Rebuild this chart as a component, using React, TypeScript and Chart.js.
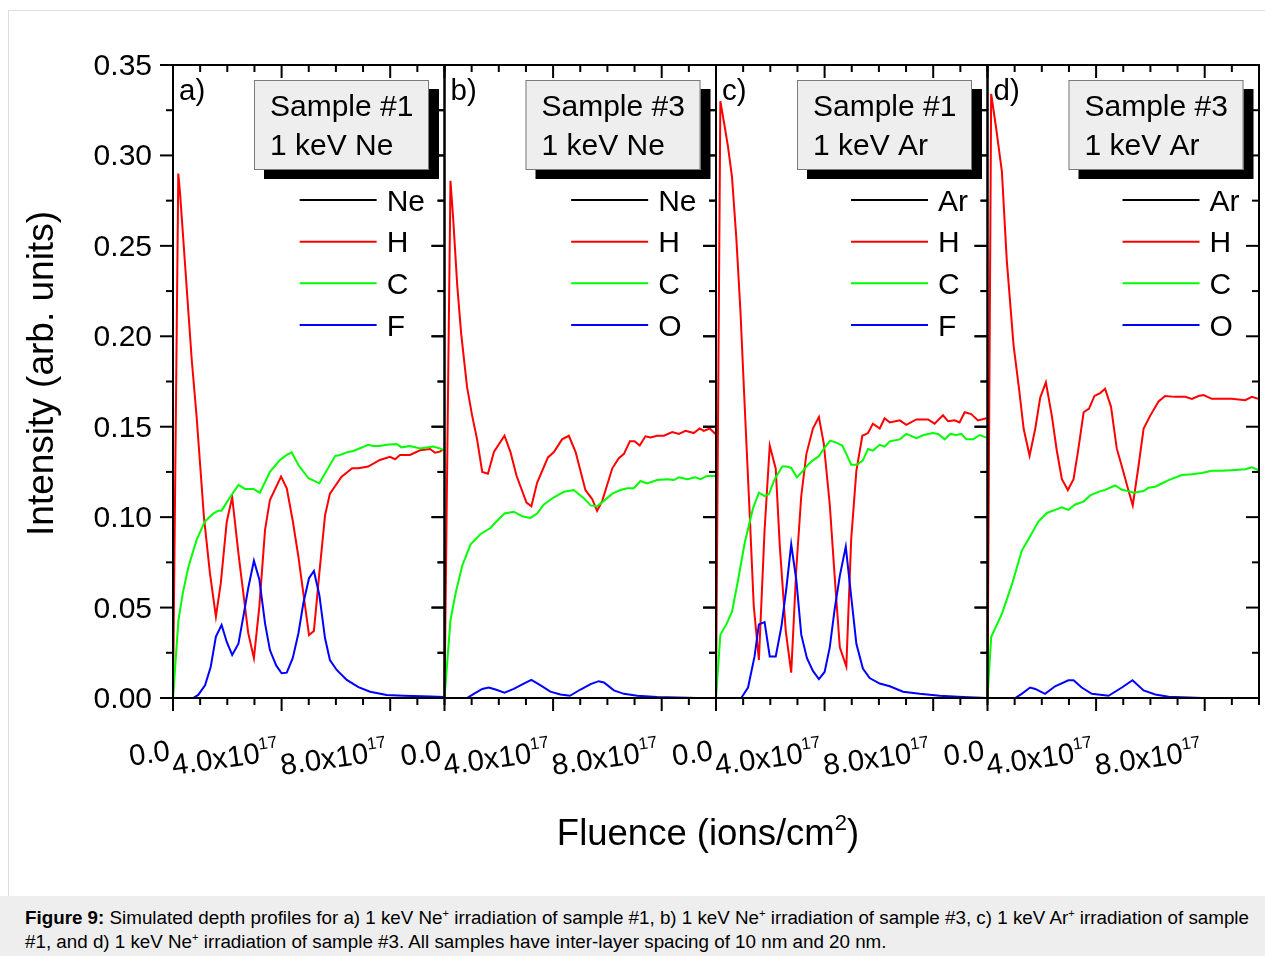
import React, { useEffect, useRef } from 'react';
import { Chart, registerables } from 'chart.js';

Chart.register(...registerables);

const FONT = '"Liberation Sans", Arial, Helvetica, sans-serif';

// ---------- axis ticks ----------
const yTickValues = [0, 0.05, 0.1, 0.15, 0.2, 0.25, 0.3, 0.35];
const yTickLabels = ['0.00', '0.05', '0.10', '0.15', '0.20', '0.25', '0.30', '0.35'];
const yMinorValues = [0.025, 0.075, 0.125, 0.175, 0.225, 0.275, 0.325];
// fluence in units of 1e17 ions/cm2
const xMajorValues = [0, 4, 8];
const xMajorLabels = ['0.0', '4.0x10', '8.0x10'];
const xMajorExponents = ['', '17', '17'];
const xMinorValues = [1, 2, 3, 5, 6, 7, 9, 10];

// ---------- panel texts ----------
const panelLetters = ['a)', 'b)', 'c)', 'd)'];
const sampleNames = ['Sample #1', 'Sample #3', 'Sample #1', 'Sample #3'];
const beamNames = ['1 keV Ne', '1 keV Ne', '1 keV Ar', '1 keV Ar'];
const panelSpecies = [
  ['Ne', 'H', 'C', 'F'],
  ['Ne', 'H', 'C', 'O'],
  ['Ar', 'H', 'C', 'F'],
  ['Ar', 'H', 'C', 'O'],
];
const seriesColors = ['#000000', '#ff0000', '#00ff00', '#0000ff'];

// ---------- data (x in 1e17 ions/cm2) ----------
const ionX = [0, 10];
const ionY = [0, 0];

// a) Sample #1, 1 keV Ne
const aHx = [0, 0.195, 0.26, 0.69, 0.87, 1.14, 1.36, 1.58, 1.76, 1.98, 2.18, 2.41, 2.77, 2.98, 3.18, 3.39, 3.57, 3.98, 4.19, 4.41, 4.62, 4.8, 5.01, 5.19, 5.39, 5.6, 5.78, 6.21, 6.6, 6.83, 7.19, 7.62, 7.99, 8.18, 8.36, 8.73, 9.1, 9.47, 9.65, 9.83, 9.96];
const aHy = [0, 0.29, 0.279, 0.187, 0.1555, 0.1, 0.069, 0.045, 0.0635, 0.0975, 0.111, 0.08, 0.036, 0.022, 0.0505, 0.093, 0.1095, 0.1224, 0.116, 0.098, 0.078, 0.058, 0.0348, 0.037, 0.069, 0.101, 0.113, 0.1224, 0.127, 0.127, 0.128, 0.1316, 0.1334, 0.132, 0.1344, 0.1344, 0.137, 0.1377, 0.1356, 0.1362, 0.1375];
const aCx = [0, 0.2, 0.36, 0.57, 0.87, 1.17, 1.48, 1.67, 1.79, 2.1, 2.41, 2.65, 2.96, 3.2, 3.57, 3.94, 4.19, 4.37, 4.62, 4.99, 5.39, 5.97, 6.15, 6.4, 6.64, 7.19, 7.38, 7.62, 7.87, 8.24, 8.42, 8.73, 9.1, 9.59, 9.83, 9.96];
const aCy = [0, 0.043, 0.058, 0.0726, 0.0874, 0.0975, 0.102, 0.1036, 0.1036, 0.111, 0.1178, 0.1156, 0.1156, 0.1135, 0.1251, 0.1316, 0.1344, 0.1358, 0.1288, 0.1215, 0.1187, 0.1338, 0.1344, 0.1358, 0.1366, 0.14, 0.1393, 0.1393, 0.14, 0.1404, 0.1386, 0.1393, 0.138, 0.139, 0.138, 0.137];
const aFx = [0, 0.74, 0.93, 1.18, 1.39, 1.58, 1.79, 1.98, 2.18, 2.41, 2.59, 2.77, 2.98, 3.18, 3.39, 3.57, 3.8, 4.0, 4.19, 4.41, 4.62, 4.8, 5.01, 5.19, 5.39, 5.6, 5.78, 6.03, 6.4, 6.83, 7.26, 7.87, 8.5, 9.5, 9.96];
const aFy = [0, 0, 0.0017, 0.007, 0.0173, 0.034, 0.0404, 0.031, 0.0238, 0.03, 0.045, 0.0607, 0.0759, 0.0656, 0.0413, 0.0265, 0.018, 0.0137, 0.014, 0.022, 0.0358, 0.0524, 0.0662, 0.0702, 0.057, 0.033, 0.021, 0.0155, 0.01, 0.006, 0.0035, 0.0017, 0.0013, 0.0008, 0.0006];

// b) Sample #3, 1 keV Ne
const bHx = [0, 0.22, 0.32, 0.47, 0.61, 0.83, 1.02, 1.2, 1.39, 1.6, 1.82, 2.21, 2.43, 2.65, 3.02, 3.2, 3.41, 3.81, 4.03, 4.33, 4.58, 4.83, 5.19, 5.44, 5.62, 5.81, 6.18, 6.42, 6.61, 6.83, 7.0, 7.19, 7.4, 7.59, 7.83, 8.08, 8.39, 8.63, 8.88, 9.18, 9.4, 9.55, 9.77, 9.98];
const bHy = [0, 0.286, 0.265, 0.228, 0.202, 0.172, 0.156, 0.143, 0.125, 0.124, 0.136, 0.145, 0.136, 0.123, 0.108, 0.106, 0.119, 0.133, 0.136, 0.143, 0.145, 0.136, 0.115, 0.11, 0.1035, 0.109, 0.127, 0.1326, 0.135, 0.142, 0.142, 0.1396, 0.1447, 0.144, 0.145, 0.145, 0.147, 0.146, 0.1477, 0.1465, 0.149, 0.1477, 0.149, 0.146];
const bCx = [0, 0.22, 0.41, 0.65, 0.96, 1.33, 1.69, 1.94, 2.21, 2.55, 2.86, 3.17, 3.41, 3.66, 4.03, 4.4, 4.76, 5.13, 5.38, 5.62, 5.87, 6.18, 6.48, 6.73, 6.97, 7.22, 7.46, 7.83, 8.2, 8.45, 8.63, 8.94, 9.24, 9.43, 9.67, 9.98];
const bCy = [0, 0.043, 0.058, 0.073, 0.085, 0.0907, 0.094, 0.098, 0.102, 0.103, 0.1005, 0.0996, 0.102, 0.107, 0.111, 0.114, 0.115, 0.1105, 0.1065, 0.106, 0.109, 0.113, 0.115, 0.116, 0.116, 0.12, 0.1186, 0.1205, 0.121, 0.1205, 0.122, 0.121, 0.122, 0.121, 0.1228, 0.1228];
const bOx = [0, 0.83, 1.08, 1.39, 1.63, 1.88, 2.21, 2.55, 2.92, 3.2, 3.54, 3.9, 4.27, 4.62, 5.01, 5.38, 5.68, 5.87, 6.24, 6.61, 7.1, 7.83, 9.3, 9.98];
const bOy = [0, 0, 0.0023, 0.005, 0.0058, 0.0047, 0.003, 0.005, 0.008, 0.01, 0.007, 0.0035, 0.0019, 0.0012, 0.0047, 0.0077, 0.0093, 0.0086, 0.0042, 0.0023, 0.0012, 0.0005, 0, 0];

// c) Sample #1, 1 keV Ar
const cHx = [0, 0.16, 0.32, 0.44, 0.59, 0.75, 0.9, 1.06, 1.24, 1.39, 1.58, 1.79, 1.98, 2.2, 2.35, 2.57, 2.77, 2.96, 3.14, 3.33, 3.57, 3.79, 3.97, 4.19, 4.37, 4.56, 4.8, 4.98, 5.17, 5.39, 5.6, 5.78, 6.03, 6.21, 6.4, 6.77, 7.01, 7.38, 7.81, 8.05, 8.36, 8.55, 8.79, 8.97, 9.16, 9.4, 9.65, 9.96];
const cHy = [0, 0.33, 0.316, 0.305, 0.288, 0.254, 0.214, 0.1605, 0.102, 0.051, 0.021, 0.093, 0.1396, 0.1268, 0.084, 0.037, 0.014, 0.072, 0.1117, 0.135, 0.149, 0.1554, 0.1407, 0.107, 0.0675, 0.028, 0.0174, 0.088, 0.1256, 0.145, 0.1465, 0.1517, 0.149, 0.1547, 0.1524, 0.1535, 0.151, 0.154, 0.154, 0.1517, 0.1563, 0.153, 0.1535, 0.1524, 0.158, 0.157, 0.1535, 0.1547];
const cCx = [0, 0.16, 0.38, 0.59, 0.81, 1.06, 1.36, 1.58, 1.79, 1.95, 2.16, 2.44, 2.59, 2.77, 2.98, 3.2, 3.39, 3.57, 3.79, 4.0, 4.21, 4.43, 4.65, 4.8, 4.98, 5.19, 5.41, 5.6, 5.78, 6.03, 6.21, 6.4, 6.77, 7.01, 7.38, 7.65, 7.99, 8.18, 8.42, 8.63, 8.85, 9.04, 9.22, 9.47, 9.71, 9.96];
const cCy = [0, 0.035, 0.0407, 0.0477, 0.065, 0.086, 0.1047, 0.1135, 0.1116, 0.1128, 0.121, 0.128, 0.128, 0.1272, 0.122, 0.1256, 0.129, 0.1314, 0.1337, 0.1384, 0.1423, 0.1412, 0.1396, 0.135, 0.129, 0.129, 0.1314, 0.1377, 0.1368, 0.14, 0.139, 0.1419, 0.143, 0.146, 0.1437, 0.1454, 0.1465, 0.146, 0.143, 0.146, 0.1454, 0.146, 0.143, 0.143, 0.1454, 0.144];
const cFx = [0, 0.93, 1.18, 1.42, 1.58, 1.79, 1.98, 2.2, 2.41, 2.59, 2.77, 2.96, 3.14, 3.35, 3.57, 3.79, 4.0, 4.19, 4.37, 4.56, 4.78, 4.98, 5.17, 5.41, 5.66, 6.03, 6.4, 6.89, 7.5, 8.24, 9.1, 9.96];
const cFy = [0, 0, 0.0058, 0.023, 0.0407, 0.042, 0.023, 0.023, 0.0395, 0.0605, 0.085, 0.065, 0.035, 0.022, 0.015, 0.0105, 0.0144, 0.028, 0.049, 0.0675, 0.0837, 0.056, 0.03, 0.0163, 0.011, 0.008, 0.0065, 0.0035, 0.0023, 0.0012, 0.0005, 0];

// d) Sample #3, 1 keV Ar
const dHx = [0, 0.135, 0.31, 0.53, 0.71, 0.96, 1.17, 1.33, 1.55, 1.76, 1.94, 2.15, 2.37, 2.55, 2.74, 2.96, 3.17, 3.35, 3.54, 3.74, 3.94, 4.15, 4.33, 4.55, 4.76, 4.95, 5.17, 5.35, 5.56, 5.75, 5.99, 6.3, 6.54, 6.91, 7.28, 7.53, 7.77, 7.96, 8.26, 8.63, 9.0, 9.49, 9.74, 9.98];
const dHy = [0, 0.334, 0.316, 0.291, 0.242, 0.195, 0.17, 0.149, 0.134, 0.149, 0.166, 0.1745, 0.156, 0.137, 0.121, 0.115, 0.121, 0.138, 0.158, 0.16, 0.167, 0.1686, 0.171, 0.161, 0.138, 0.128, 0.116, 0.1065, 0.128, 0.149, 0.156, 0.164, 0.167, 0.1665, 0.1665, 0.1654, 0.167, 0.1675, 0.1654, 0.1654, 0.1654, 0.1647, 0.1665, 0.1654];
const dCx = [0, 0.135, 0.53, 0.9, 1.26, 1.57, 1.88, 2.19, 2.49, 2.74, 2.98, 3.23, 3.54, 3.78, 4.09, 4.33, 4.7, 4.95, 5.19, 5.38, 5.75, 5.93, 6.18, 6.42, 6.67, 7.16, 7.53, 7.89, 8.26, 8.63, 9.12, 9.49, 9.74, 9.98];
const dCy = [0, 0.0337, 0.0465, 0.0628, 0.0814, 0.0895, 0.0977, 0.1023, 0.104, 0.1054, 0.104, 0.107, 0.1086, 0.112, 0.114, 0.1151, 0.1175, 0.1151, 0.1144, 0.1135, 0.1144, 0.1163, 0.1168, 0.1186, 0.1205, 0.1233, 0.1237, 0.1244, 0.1256, 0.1256, 0.1261, 0.1265, 0.1275, 0.126];
const dOx = [0, 1.02, 1.26, 1.57, 1.76, 2.12, 2.49, 2.98, 3.17, 3.47, 3.84, 4.46, 4.95, 5.34, 5.75, 6.18, 6.67, 7.9, 9.98];
const dOy = [0, 0, 0.0023, 0.0058, 0.005, 0.0023, 0.0065, 0.0098, 0.0098, 0.0058, 0.0023, 0.0012, 0.0058, 0.0098, 0.0042, 0.0019, 0.0007, 0, 0];

const panelXs = [
  [ionX, aHx, aCx, aFx],
  [ionX, bHx, bCx, bOx],
  [ionX, cHx, cCx, cFx],
  [ionX, dHx, dCx, dOx],
];
const panelYs = [
  [ionY, aHy, aCy, aFy],
  [ionY, bHy, bCy, bOy],
  [ionY, cHy, cCy, cFy],
  [ionY, dHy, dCy, dOy],
];

// Each panel has its own x axis; the four axes share the full plot width,
// each panel covering its own quarter (0..10 x 1e17).
const axisIds = ['xa', 'xb', 'xc', 'xd'];
const axisMin = [0, -10, -20, -30];
const axisMax = [40, 30, 20, 10];

const drawDecor = {
  id: 'decor',
  afterDraw(chart: any) {
    const ctx: CanvasRenderingContext2D = chart.ctx;
    const ys = chart.scales.y;
    const top = ys.getPixelForValue(0.35);
    const bottom = ys.getPixelForValue(0);
    const line = (x1: number, y1: number, x2: number, y2: number) => {
      ctx.beginPath();
      ctx.moveTo(x1, y1);
      ctx.lineTo(x2, y2);
      ctx.stroke();
    };
    ctx.save();
    ctx.strokeStyle = '#000';
    ctx.fillStyle = '#000';
    ctx.lineCap = 'butt';

    axisIds.forEach((id, i) => {
      const xs = chart.scales[id];
      const L = xs.getPixelForValue(0);
      const R = xs.getPixelForValue(10);
      ctx.lineWidth = 2;
      ctx.strokeStyle = '#000';
      // y ticks: left outward, right inward
      yTickValues.forEach((v) => {
        const y = ys.getPixelForValue(v);
        line(L - 13, y, L, y);
        line(R - 13, y, R, y);
      });
      yMinorValues.forEach((v) => {
        const y = ys.getPixelForValue(v);
        line(L - 7, y, L, y);
        line(R - 7, y, R, y);
      });
      // x ticks: bottom outward, top inward
      xMajorValues.forEach((v) => {
        const x = xs.getPixelForValue(v);
        line(x, bottom, x, bottom + 13);
        line(x, top, x, top + 13);
      });
      xMinorValues.forEach((v) => {
        const x = xs.getPixelForValue(v);
        line(x, bottom, x, bottom + 7);
        line(x, top, x, top + 7);
      });
      // frame
      ctx.strokeRect(L, top, R - L, bottom - top);

      // x tick labels (slightly rotated)
      xMajorValues.forEach((v, k) => {
        const x = xs.getPixelForValue(v);
        const base = xMajorLabels[k];
        const exp = xMajorExponents[k];
        ctx.font = `29.5px ${FONT}`;
        const wb = ctx.measureText(base).width;
        ctx.font = `17px ${FONT}`;
        const we = exp ? ctx.measureText(exp).width : 0;
        ctx.save();
        ctx.translate(x - 2, 760);
        ctx.rotate((-8 * Math.PI) / 180);
        ctx.textAlign = 'left';
        ctx.textBaseline = 'alphabetic';
        ctx.font = `29.5px ${FONT}`;
        ctx.fillText(base, -(wb + we), 0);
        if (exp) {
          ctx.font = `17px ${FONT}`;
          ctx.fillText(exp, -we, -13);
        }
        ctx.restore();
      });

      // panel letter
      ctx.font = `29.5px ${FONT}`;
      ctx.textAlign = 'left';
      ctx.textBaseline = 'alphabetic';
      ctx.fillText(panelLetters[i], L + 6, 100);

      // sample box with shadow
      const bx = L + 81;
      const by = 80;
      const bw = 175;
      const bh = 90;
      ctx.fillStyle = '#000';
      ctx.fillRect(bx + 10, by + 9, bw, bh);
      ctx.fillStyle = '#eeeeee';
      ctx.fillRect(bx, by, bw, bh);
      ctx.lineWidth = 1;
      ctx.strokeStyle = '#7a7a7a';
      ctx.strokeRect(bx + 0.5, by + 0.5, bw - 1, bh - 1);
      ctx.fillStyle = '#000';
      ctx.font = `30px ${FONT}`;
      ctx.fillText(sampleNames[i], L + 97, 116);
      ctx.fillText(beamNames[i], L + 97, 155);

      // legend (right aligned)
      const names = panelSpecies[i];
      ctx.font = `30px ${FONT}`;
      const maxW = Math.max(...names.map((n) => ctx.measureText(n).width));
      const textX = L + 252 - maxW;
      const legY = [200, 241.7, 283.3, 325];
      names.forEach((n, j) => {
        ctx.strokeStyle = seriesColors[j];
        ctx.lineWidth = 2;
        line(textX - 87, legY[j], textX - 10, legY[j]);
        ctx.fillStyle = '#000';
        ctx.fillText(n, textX, legY[j] + 10.7);
      });
    });

    // y tick labels
    ctx.fillStyle = '#000';
    ctx.font = `30px ${FONT}`;
    ctx.textAlign = 'right';
    ctx.textBaseline = 'alphabetic';
    yTickValues.forEach((v, k) => {
      const y = ys.getPixelForValue(v);
      ctx.fillText(yTickLabels[k], 152, y + 10);
    });

    // y title
    ctx.save();
    ctx.translate(53, 373.5);
    ctx.rotate(-Math.PI / 2);
    ctx.textAlign = 'center';
    ctx.font = `37px ${FONT}`;
    ctx.fillText('Intensity (arb. units)', 0, 0);
    ctx.restore();

    // x title with superscript
    const t1 = 'Fluence (ions/cm';
    const t2 = '2';
    const t3 = ')';
    ctx.textAlign = 'left';
    ctx.font = `36.5px ${FONT}`;
    const w1 = ctx.measureText(t1).width;
    const w3 = ctx.measureText(t3).width;
    ctx.font = `22px ${FONT}`;
    const w2 = ctx.measureText(t2).width;
    const cx = 708;
    const sx = cx - (w1 + w2 + w3) / 2;
    ctx.font = `36.5px ${FONT}`;
    ctx.fillText(t1, sx, 845);
    ctx.font = `22px ${FONT}`;
    ctx.fillText(t2, sx + w1, 830);
    ctx.font = `36.5px ${FONT}`;
    ctx.fillText(t3, sx + w1 + w2, 845);

    ctx.restore();
  },
};

const supStyle: React.CSSProperties = { fontSize: 11, lineHeight: 0, verticalAlign: 'super' };

export default function App() {
  const ref = useRef<HTMLCanvasElement>(null);

  useEffect(() => {
    const datasets: any[] = [];
    axisIds.forEach((id, i) => {
      panelSpecies[i].forEach((name, j) => {
        const xs = panelXs[i][j];
        const ys = panelYs[i][j];
        datasets.push({
          label: `${panelLetters[i]} ${name}`,
          data: xs.map((x, k) => ({ x, y: ys[k] })),
          xAxisID: id,
          yAxisID: 'y',
          borderColor: seriesColors[j],
          backgroundColor: seriesColors[j],
          borderWidth: 2,
          pointRadius: 0,
          fill: false,
          tension: 0,
          order: 4 - j,
        });
      });
    });
    const scales: any = {
      y: { type: 'linear', display: false, min: 0, max: 0.35 },
    };
    axisIds.forEach((id, i) => {
      scales[id] = { type: 'linear', display: false, min: axisMin[i], max: axisMax[i] };
    });
    const chart = new Chart(ref.current as HTMLCanvasElement, {
      type: 'line',
      data: { datasets },
      options: {
        responsive: false,
        animation: false,
        devicePixelRatio: 1,
        layout: { padding: { left: 173, top: 65, right: 6, bottom: 197 } },
        scales,
        plugins: { legend: { display: false }, tooltip: { enabled: false } },
        elements: { point: { radius: 0 } },
      },
      plugins: [drawDecor],
    } as any);
    return () => chart.destroy();
  }, []);

  return (
    <div
      style={{
        position: 'fixed',
        left: 0,
        top: 0,
        width: 1265,
        height: 956,
        background: '#ffffff',
        fontFamily: FONT,
        overflow: 'hidden',
      }}
    >
      <div
        style={{
          position: 'absolute',
          left: 8,
          top: 10,
          width: 1257,
          height: 886,
          borderTop: '1px solid #dddddd',
          borderLeft: '1px solid #dddddd',
          boxSizing: 'border-box',
        }}
      />
      <canvas
        ref={ref}
        width={1265}
        height={895}
        style={{ position: 'absolute', left: 0, top: 0, width: 1265, height: 895 }}
      />
      <div
        style={{
          position: 'absolute',
          left: 0,
          top: 896,
          width: 1265,
          height: 60,
          background: '#eeeeee',
          boxSizing: 'border-box',
          padding: '10px 0 0 25px',
          fontSize: 18.8,
          lineHeight: '24px',
          color: '#000',
          whiteSpace: 'nowrap',
        }}
      >
        <b>Figure 9:</b> Simulated depth profiles for a) 1 keV Ne<sup style={supStyle}>+</sup> irradiation of sample #1, b) 1 keV Ne<sup style={supStyle}>+</sup> irradiation of sample #3, c) 1 keV Ar<sup style={supStyle}>+</sup> irradiation of sample
        <br />
        #1, and d) 1 keV Ne<sup style={supStyle}>+</sup> irradiation of sample #3. All samples have inter-layer spacing of 10 nm and 20 nm.
      </div>
    </div>
  );
}
